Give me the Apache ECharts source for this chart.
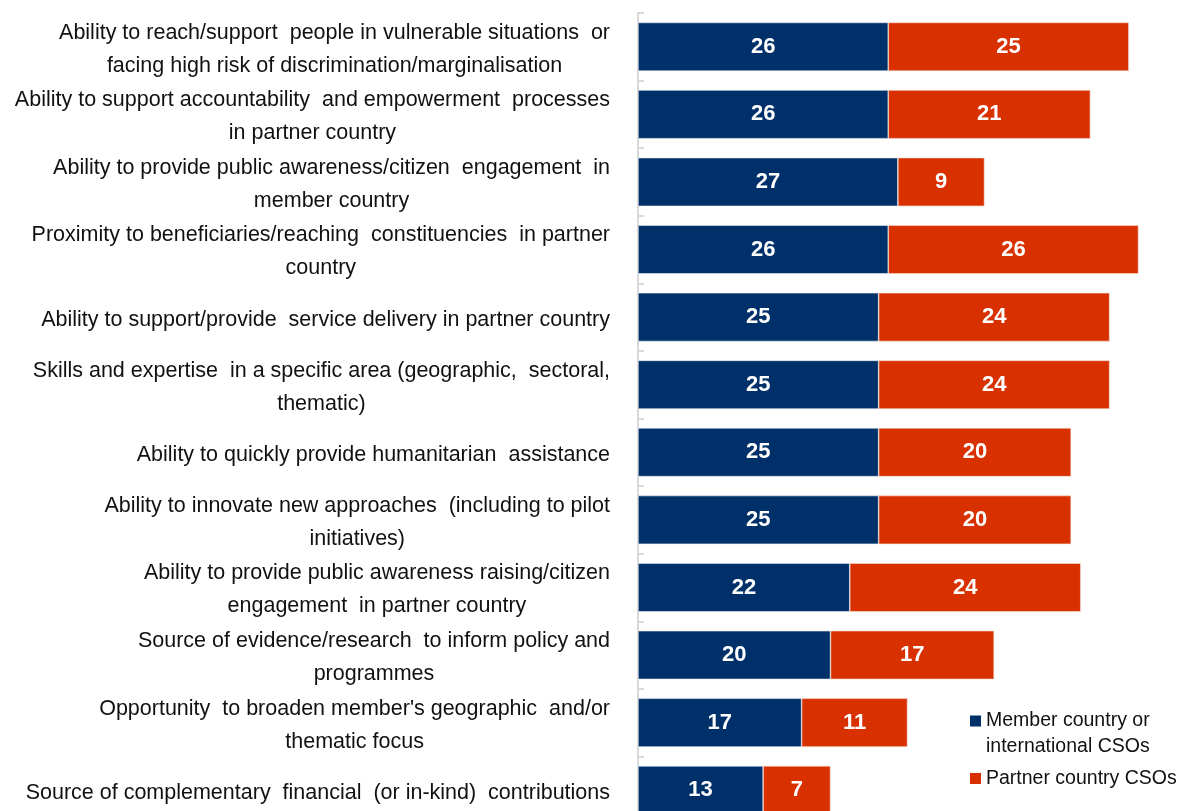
<!DOCTYPE html>
<html>
<head>
<meta charset="utf-8">
<script src="https://cdn.jsdelivr.net/npm/echarts@6/dist/echarts.min.js"></script>
<style>
  html, body { margin: 0; padding: 0; background: #ffffff; }
  #chart { width: 1181px; height: 811px; }
</style>
</head>
<body>
<div id="chart"></div>
<script>
// Reasons for working with CSOs: counts by CSO type
const categories = [
  "Ability to reach/support  people in vulnerable situations  or\nfacing high risk of discrimination/marginalisation",
  "Ability to support accountability  and empowerment  processes\nin partner country",
  "Ability to provide public awareness/citizen  engagement  in\nmember country",
  "Proximity to beneficiaries/reaching  constituencies  in partner\ncountry",
  "Ability to support/provide  service delivery in partner country",
  "Skills and expertise  in a specific area (geographic,  sectoral,\nthematic)",
  "Ability to quickly provide humanitarian  assistance",
  "Ability to innovate new approaches  (including to pilot\ninitiatives)",
  "Ability to provide public awareness raising/citizen\nengagement  in partner country",
  "Source of evidence/research  to inform policy and\nprogrammes",
  "Opportunity  to broaden member's geographic  and/or\nthematic focus",
  "Source of complementary  financial  (or in-kind)  contributions"
];
const memberCSOs  = [26, 26, 27, 26, 25, 25, 25, 25, 22, 20, 17, 13];
const partnerCSOs = [25, 21,  9, 26, 24, 24, 20, 20, 24, 17, 11,  7];
const seriesNames = ["Member country or\ninternational CSOs", "Partner country CSOs"];

const FONT = "'Liberation Sans Narrow', 'Arial Narrow', 'Liberation Sans', Arial, sans-serif";
const NAVY = "#003069";
const RED = "#D93000";

// legend swatches: square at the top of a tall box (first item, two-line text)
// and square in the middle (second item, one-line text)
const ICON_TOP = 'path://M0,0L11,0L11,11L0,11Z M0,37';
const ICON_MID = 'path://M0,13L11,13L11,24L0,24Z M0,0 M0,37';

const chart = echarts.init(document.getElementById('chart'), null, { renderer: 'canvas' });

const valueLabel = {
  show: true,
  position: 'inside',
  color: '#ffffff',
  fontFamily: FONT,
  fontWeight: 'bold',
  fontSize: 22
};

chart.setOption({
  animation: false,
  backgroundColor: '#ffffff',
  grid: { left: 638, right: 4, top: 13, bottom: -13, containLabel: false, outerBoundsMode: 'none' },
  xAxis: {
    type: 'value',
    min: 0,
    max: 56,
    show: false
  },
  yAxis: {
    type: 'category',
    inverse: true,
    data: categories,
    axisLine: { show: true, lineStyle: { color: '#d9d9d9', width: 2 } },
    axisTick: { show: true, inside: true, length: 6, lineStyle: { color: '#d9d9d9', width: 2 } },
    axisLabel: {
      interval: 0,
      showMinLabel: true,
      showMaxLabel: true,
      hideOverlap: false,
      margin: 28,
      align: 'right',
      padding: [5, 0, 0, 0],
      fontFamily: FONT,
      fontSize: 21.5,
      lineHeight: 33,
      color: '#111111',
      formatter: function (v) {
        return v.split('\n').map(function (l) { return '{c|' + l + '}'; }).join('\n');
      },
      rich: {
        c: { align: 'center', fontFamily: FONT, fontSize: 21.5, lineHeight: 33, color: '#111111' }
      }
    }
  },
  legend: {
    orient: 'vertical',
    left: 970,
    top: 708,
    padding: 0,
    itemWidth: 11,
    itemHeight: 37,
    itemGap: 0,
    itemStyle: { borderWidth: 0 },
    textStyle: { fontFamily: FONT, fontSize: 19.5, lineHeight: 26, color: '#111111' },
    data: [
      { name: seriesNames[0], icon: ICON_TOP },
      { name: seriesNames[1], icon: ICON_MID }
    ]
  },
  series: [
    {
      name: seriesNames[0],
      type: 'bar',
      stack: 'total',
      barCategoryGap: '28%',
      itemStyle: { color: NAVY, borderColor: '#e8ecf2', borderWidth: 0.6 },
      label: valueLabel,
      data: memberCSOs
    },
    {
      name: seriesNames[1],
      type: 'bar',
      stack: 'total',
      barCategoryGap: '28%',
      itemStyle: { color: RED, borderColor: '#f4e0d8', borderWidth: 0.6 },
      label: valueLabel,
      data: partnerCSOs
    }
  ]
});
</script>
</body>
</html>
